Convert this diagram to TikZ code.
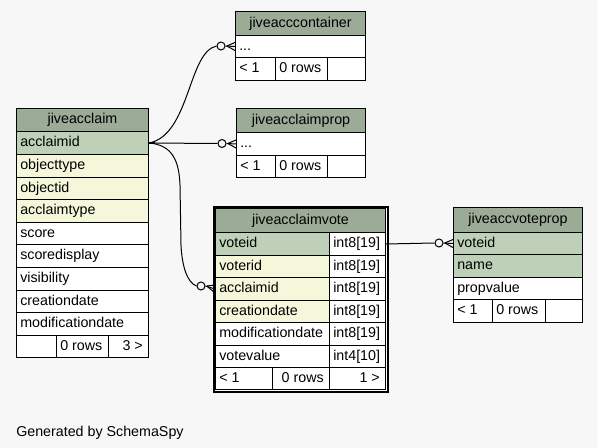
\documentclass[tikz,border=0pt]{standalone}
\usepackage{fontspec}
\setmainfont{Liberation Sans}
\definecolor{bg}{HTML}{F7F7F7}
\definecolor{hdr}{HTML}{9BAB96}
\definecolor{pk}{HTML}{BED1B8}
\definecolor{idx}{HTML}{F4F7DA}
\newcommand\cellL[7]{%
  \node[cellbox,fill=#6,minimum width=#4*0.75pt,minimum height=#5*0.75pt] (#1) at (#2,#3) {};
  \node[txt,anchor=west] (#1-t) at ([xshift=3pt]#1.west) {#7};}
\newcommand\cellC[7]{%
  \node[cellbox,fill=#6,minimum width=#4*0.75pt,minimum height=#5*0.75pt] (#1) at (#2,#3) {};
  \node[txt,anchor=center] (#1-t) at (#1.center) {#7};}
\newcommand\cellR[7]{%
  \node[cellbox,fill=#6,minimum width=#4*0.75pt,minimum height=#5*0.75pt] (#1) at (#2,#3) {};
  \node[txt,anchor=east] (#1-t) at ([xshift=-4.5pt]#1.east) {#7};}
\begin{document}
\begin{tikzpicture}[x=0.75pt,y=-0.75pt,
  cellbox/.style={draw=black,line width=0.75pt,anchor=north west,inner sep=0pt,rectangle},
  txt/.style={inner sep=0pt,font=\fontsize{10.7}{12}\selectfont,text height=7.8pt,text depth=2.2pt},
  odot/.style={circle,draw=black,fill=bg,inner sep=0pt,minimum size=6pt,line width=0.75pt},
  conn/.style={line width=0.75pt,draw=black}]
\fill[bg] (0,0) rectangle (597,448);
\useasboundingbox (0,0) rectangle (597,448);

% jiveacclaim
\cellC{a-h}{16}{108}{132}{23}{hdr}{jiveacclaim}
\cellL{a-1}{16}{131}{132}{23}{pk}{acclaimid}
\cellL{a-2}{16}{154}{132}{23}{idx}{objecttype}
\cellL{a-3}{16}{177}{132}{22}{idx}{objectid}
\cellL{a-4}{16}{199}{132}{23}{idx}{acclaimtype}
\cellL{a-5}{16}{222}{132}{22}{white}{score}
\cellL{a-6}{16}{244}{132}{23}{white}{scoredisplay}
\cellL{a-7}{16}{267}{132}{23}{white}{visibility}
\cellL{a-8}{16}{290}{132}{22}{white}{creationdate}
\cellL{a-9}{16}{312}{132}{23}{white}{modificationdate}
\cellL{a-f1}{16}{335}{40}{22}{white}{}
\cellL{a-f2}{56}{335}{52}{22}{white}{0 rows}
\cellR{a-f3}{108}{335}{40}{22}{white}{3 >}

% jiveacccontainer
\cellC{c-h}{235}{11}{130}{24}{hdr}{jiveacccontainer}
\cellL{c-1}{235}{35}{130}{22}{white}{...}
\cellL{c-f1}{235}{57}{40}{23}{white}{< 1}
\cellL{c-f2}{275}{57}{52}{23}{white}{0 rows}
\cellL{c-f3}{327}{57}{38}{23}{white}{}

% jiveacclaimprop
\cellC{p-h}{236}{108}{129}{24}{hdr}{jiveacclaimprop}
\cellL{p-1}{236}{132}{129}{23}{white}{...}
\cellL{p-f1}{236}{155}{39}{22}{white}{< 1}
\cellL{p-f2}{275}{155}{52}{22}{white}{0 rows}
\cellL{p-f3}{327}{155}{38}{22}{white}{}

% jiveacclaimvote
\node[draw=black,fill=white,line width=1.5pt,anchor=north west,inner sep=0pt,
  minimum width=174*0.75pt,minimum height=185*0.75pt] (v-frame) at (213,206) {};
\cellC{v-h}{215}{208}{170}{24}{hdr}{jiveacclaimvote}
\cellL{v-1}{215}{232}{114}{23}{pk}{voteid}
\cellL{v-1b}{329}{232}{56}{23}{white}{int8[19]}
\cellL{v-2}{215}{255}{114}{22}{idx}{voterid}
\cellL{v-2b}{329}{255}{56}{22}{white}{int8[19]}
\cellL{v-3}{215}{277}{114}{23}{idx}{acclaimid}
\cellL{v-3b}{329}{277}{56}{23}{white}{int8[19]}
\cellL{v-4}{215}{300}{114}{22}{idx}{creationdate}
\cellL{v-4b}{329}{300}{56}{22}{white}{int8[19]}
\cellL{v-5}{215}{322}{114}{23}{white}{modificationdate}
\cellL{v-5b}{329}{322}{56}{23}{white}{int8[19]}
\cellL{v-6}{215}{345}{114}{22}{white}{votevalue}
\cellL{v-6b}{329}{345}{56}{22}{white}{int4[10]}
\cellL{v-f1}{215}{367}{57}{22}{white}{< 1}
\cellR{v-f2}{272}{367}{57}{22}{white}{0 rows}
\cellR{v-f3}{329}{367}{56}{22}{white}{1 >}

% jiveaccvoteprop
\cellC{vp-h}{453}{207}{129}{25}{hdr}{jiveaccvoteprop}
\cellL{vp-1}{453}{232}{129}{22}{pk}{voteid}
\cellL{vp-2}{453}{254}{129}{23}{pk}{name}
\cellL{vp-3}{453}{277}{129}{22}{white}{propvalue}
\cellL{vp-f1}{453}{299}{39}{23}{white}{< 1}
\cellL{vp-f2}{492}{299}{53}{23}{white}{0 rows}
\cellL{vp-f3}{545}{299}{37}{23}{white}{}

% connectors
\node[odot] (o1) at (221,46) {};
\node[odot] (o2) at (222,143.5) {};
\node[odot] (o3) at (201,286) {};
\node[odot] (o4) at (439,243) {};

\draw[conn] (a-1.east) .. controls (190,135) and (188,52) .. (o1.west);
\draw[conn] (a-1.east) -- (o2.west);
\draw[conn] (a-1.east) .. controls (172,145) and (179,160) .. (180,185) -- (181,245) .. controls (182,268) and (188,283) .. (o3.west);
\draw[conn] (v-1b.east) -- (o4.west);
\draw[line width=1.6pt] (a-1.east) -- ++(6,0);

\foreach \o/\c in {o1/c-1, o2/p-1, o3/v-3, o4/vp-1}{
  \draw[conn] (\o.east) -- (\c.west);
  \draw[conn] ([xshift=1pt]\o.east) -- ([yshift=3pt]\c.west);
  \draw[conn] ([xshift=1pt]\o.east) -- ([yshift=-3pt]\c.west);
}

\node[txt,anchor=base west] (gen) at (16,436.5) {Generated by SchemaSpy};
\end{tikzpicture}
\end{document}
